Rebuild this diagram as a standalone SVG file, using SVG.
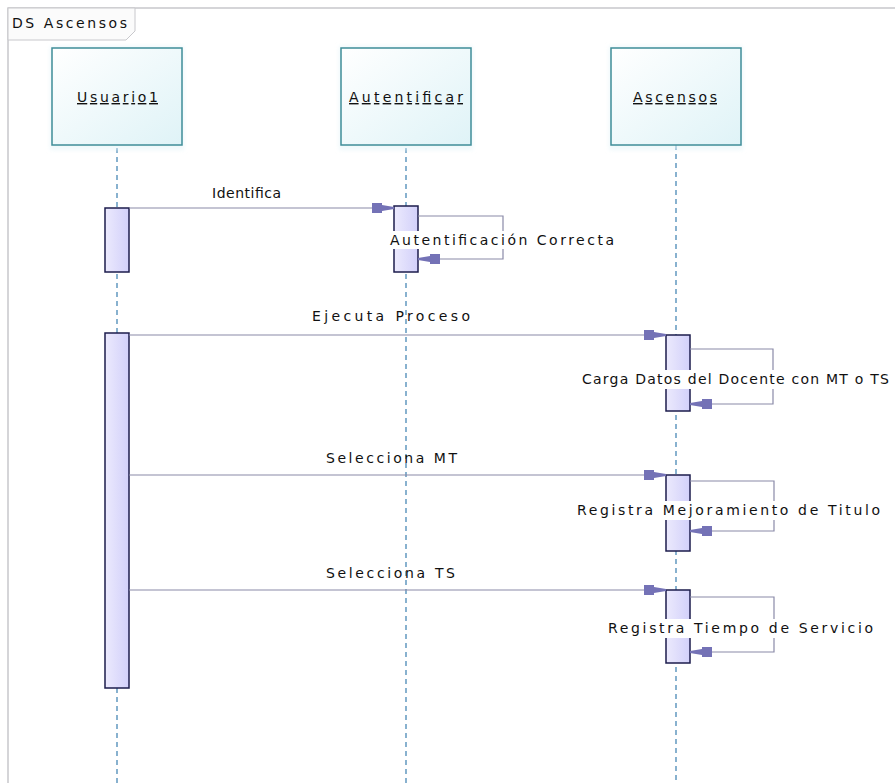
<svg xmlns="http://www.w3.org/2000/svg" width="895" height="783" viewBox="0 0 895 783">
  <style>
    .frame { fill: none; stroke: #c8c8cc; stroke-width: 1.5; }
    .tab { fill: #fbfbfb; stroke: #c8c8cc; stroke-width: 1; }
    .head { fill: url(#headFill); stroke: #3f8d98; stroke-width: 1.5; }
    .life { stroke: #3a7fb0; stroke-width: 1.2; stroke-dasharray: 5 4; fill: none; }
    .act { fill: url(#actFill); stroke: #1c1c4c; stroke-width: 1.5; }
    .msg { stroke: #8a8aa8; stroke-width: 1.2; fill: none; marker-end: url(#arrow); }
    .lbl { font-family: "DejaVu Sans", "Liberation Sans", sans-serif; font-size: 14px; fill: #111; }
    .name { font-family: "DejaVu Sans", "Liberation Sans", sans-serif; font-size: 14px; fill: #111; text-decoration: underline; }
    .bg { fill: #ffffff; }
  </style>
  <defs>
    <linearGradient id="headFill" x1="0" y1="0" x2="1" y2="1">
      <stop offset="0" stop-color="#ffffff"/>
      <stop offset="1" stop-color="#dff3f7"/>
    </linearGradient>
    <linearGradient id="actFill" x1="0" y1="0" x2="1" y2="0">
      <stop offset="0" stop-color="#eceafd"/>
      <stop offset="1" stop-color="#d2d0fa"/>
    </linearGradient>
    <filter id="glow" x="-10%" y="-10%" width="120%" height="120%">
      <feGaussianBlur stdDeviation="2"/>
    </filter>
    <marker id="arrow" markerWidth="24" markerHeight="12" refX="22" refY="6" orient="auto" markerUnits="userSpaceOnUse">
      <polygon points="0,1 10,1 10,3 22,5 22,7 10,9 10,11 0,11" fill="#7472b6"/>
    </marker>
  </defs>

  <rect x="0" y="0" width="895" height="783" fill="#ffffff"/>

  <!-- diagram frame and name tab -->
  <g id="frame">
    <path class="frame" d="M8,783 V8 H895"/>
    <path class="tab" d="M8,8 H135 V31 L126,40 H8 Z"/>
    <text class="lbl" x="12" y="28" textLength="115" lengthAdjust="spacing">DS Ascensos</text>
  </g>

  <!-- lifelines -->
  <g id="lifelines">
    <line class="life" x1="117" y1="148" x2="117" y2="783"/>
    <line class="life" x1="406" y1="148" x2="406" y2="783"/>
    <line class="life" x1="676" y1="145" x2="676" y2="783"/>
  </g>

  <g id="usuario1">
    <rect x="50" y="46" width="134" height="104" fill="#e4f4f8" opacity="0.6" filter="url(#glow)"/>
    <rect class="head" x="52" y="48" width="130" height="97"/>
    <text class="name" x="77" y="102" textLength="81" lengthAdjust="spacing">Usuario1</text>
  </g>
  <g id="autentificar">
    <rect x="339" y="46" width="134" height="104" fill="#e4f4f8" opacity="0.6" filter="url(#glow)"/>
    <rect class="head" x="341" y="48" width="130" height="97"/>
    <text class="name" x="349" y="102" textLength="114" lengthAdjust="spacing">Autentificar</text>
  </g>
  <g id="ascensos">
    <rect x="609" y="46" width="134" height="104" fill="#e4f4f8" opacity="0.6" filter="url(#glow)"/>
    <rect class="head" x="611" y="48" width="130" height="97"/>
    <text class="name" x="633" y="102" textLength="84" lengthAdjust="spacing">Ascensos</text>
  </g>

  <!-- activation bars -->
  <g id="activations">
    <rect class="act" x="105" y="208" width="24" height="64"/>
    <rect class="act" x="105" y="333" width="24" height="355"/>
    <rect class="act" x="394" y="206" width="24" height="66"/>
    <rect class="act" x="666" y="335" width="24" height="76"/>
    <rect class="act" x="666" y="475" width="24" height="76"/>
    <rect class="act" x="666" y="590" width="24" height="73"/>
  </g>

  <!-- messages -->
  <g id="connectors">
    <line class="msg" x1="129" y1="208" x2="394" y2="208"/>
    <polyline class="msg" points="418,216 503,216 503,259 418,259"/>
    <line class="msg" x1="129" y1="335" x2="666" y2="335"/>
    <polyline class="msg" points="690,349 773,349 773,404 690,404"/>
    <line class="msg" x1="129" y1="475" x2="666" y2="475"/>
    <polyline class="msg" points="690,481 774,481 774,531 690,531"/>
    <line class="msg" x1="129" y1="590" x2="666" y2="590"/>
    <polyline class="msg" points="690,597 774,597 774,652 690,652"/>
  </g>

  <!-- message labels -->
  <g id="labels">
    <text class="lbl" x="212" y="198" textLength="69" lengthAdjust="spacing">Identifica</text>
    <rect class="bg" x="388" y="231" width="228" height="18"/>
    <text class="lbl" x="390" y="245" textLength="224" lengthAdjust="spacing">Autentificación Correcta</text>
    <text class="lbl" x="312" y="321" textLength="158" lengthAdjust="spacing">Ejecuta Proceso</text>
    <rect class="bg" x="580" y="370" width="311" height="19"/>
    <text class="lbl" x="582" y="384" textLength="307" lengthAdjust="spacing">Carga Datos del Docente con MT o TS</text>
    <text class="lbl" x="326" y="463" textLength="131" lengthAdjust="spacing">Selecciona MT</text>
    <rect class="bg" x="575" y="501" width="307" height="19"/>
    <text class="lbl" x="577" y="515" textLength="303" lengthAdjust="spacing">Registra Mejoramiento de Titulo</text>
    <text class="lbl" x="326" y="578" textLength="129" lengthAdjust="spacing">Selecciona TS</text>
    <rect class="bg" x="606" y="619" width="269" height="19"/>
    <text class="lbl" x="608" y="633" textLength="265" lengthAdjust="spacing">Registra Tiempo de Servicio</text>
  </g>
</svg>
